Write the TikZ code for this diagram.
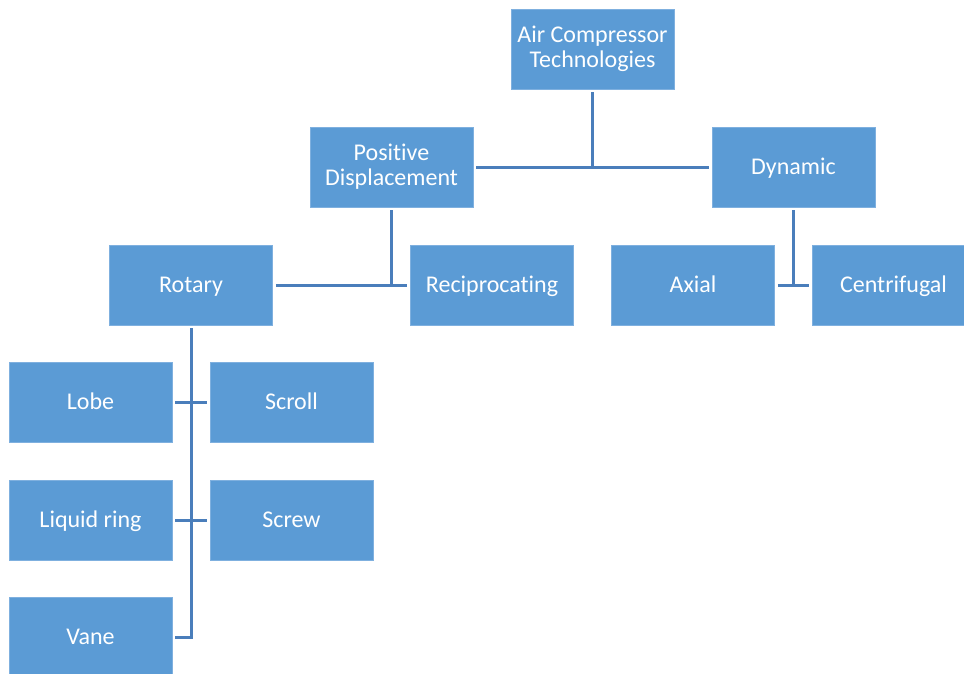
\documentclass[tikz,border=0pt]{standalone}
\usepackage{fontspec}
\setmainfont[Ligatures=NoCommon]{Carlito}
\definecolor{boxfill}{HTML}{5B9BD5}
\definecolor{boxedge}{HTML}{7FB0DF}
\definecolor{linkcol}{HTML}{4A7EBB}
\newcommand{\boxstrut}{\rule[-5pt]{0pt}{25pt}}
\begin{document}
\begin{tikzpicture}[x=1pt,y=-1pt,
  cbox/.style={rectangle, fill=boxfill, draw=boxedge, line width=0.8pt,
    minimum width=163pt, minimum height=80pt, inner sep=0pt,
    text=white, align=center, font=\fontsize{24}{25}\selectfont,
    execute at begin node=\boxstrut, execute at end node=\boxstrut},
  link/.style={draw=linkcol, line width=3pt}]
\useasboundingbox (0,0) rectangle (964,673);
\clip (0,0) rectangle (964,673);
\node[cbox] (top) at (592.5,49) {Air Compressor\\Technologies};
\node[cbox] (pd) at (391.5,167) {Positive\\Displacement};
\node[cbox] (dyn) at (793.5,167) {Dynamic};
\node[cbox] (rot) at (191,285) {Rotary};
\node[cbox] (rec) at (492,285) {Reciprocating};
\node[cbox] (axi) at (693,285) {Axial};
\node[cbox] (cen) at (893.5,285) {Centrifugal};
\node[cbox] (lob) at (90.5,402) {Lobe};
\node[cbox] (scr) at (291.5,402) {Scroll};
\node[cbox] (liq) at (90.5,520) {Liquid ring};
\node[cbox] (scw) at (291.5,520) {Screw};
\node[cbox] (van) at (90.5,637) {Vane};
% level 1
\draw[link] ([xshift=3pt]pd.east) -- ([xshift=-3pt]dyn.west);
\draw[link] ([yshift=-3pt]top.south) -- (top.south |- pd.east);
% positive displacement
\draw[link] ([xshift=3pt]rot.east) -- ([xshift=-3pt]rec.west);
\draw[link] ([yshift=-3pt]pd.south) -- (pd.south |- rot.east);
% dynamic
\draw[link] ([xshift=3pt]axi.east) -- ([xshift=-3pt]cen.west);
\draw[link] ([yshift=-3pt]dyn.south) -- (dyn.south |- axi.east);
% rotary
\coordinate (rv) at (rot.south |- van.east);
\draw[link] ([yshift=-3pt]rot.south) -- ([yshift=-1.5pt]rv);
\draw[link] ([xshift=3pt]lob.east) -- ([xshift=-3pt]scr.west);
\draw[link] ([xshift=3pt]liq.east) -- ([xshift=-3pt]scw.west);
\draw[link] ([xshift=3pt]van.east) -- ([xshift=1.5pt]rv);
\end{tikzpicture}
\end{document}
